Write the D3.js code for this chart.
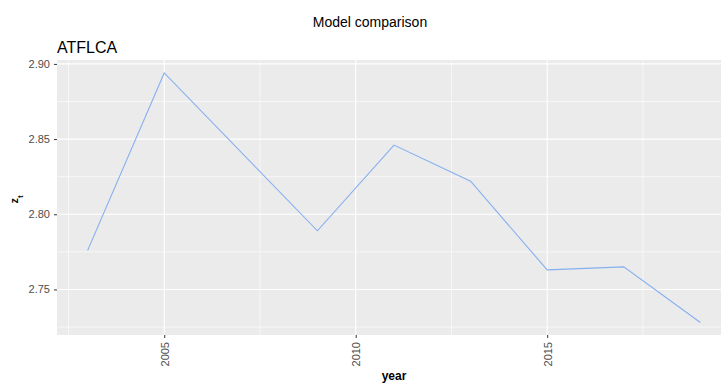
<!DOCTYPE html>
<html><head><meta charset="utf-8">
<script src="https://cdn.jsdelivr.net/npm/d3@7/dist/d3.min.js"></script>
<style>body{margin:0;background:#fff}svg{display:block}</style>
</head><body>
<svg id="c" width="721" height="383"></svg>
<script>
const years = [2003, 2005, 2009, 2011, 2013, 2015, 2017, 2019];
const zt = [2.776, 2.894, 2.789, 2.846, 2.822, 2.763, 2.765, 2.728];
const xTicks = [2005, 2010, 2015];
const xMinor = [2002.5, 2007.5, 2012.5, 2017.5];
const yTicks = [2.75, 2.80, 2.85, 2.90];
const yMinor = [2.725, 2.775, 2.825, 2.875];

const svg = d3.select("#c");
const L = 57, R = 731, T = 60, B = 335;
const x = d3.scaleLinear().domain([2002.2, 2019.8]).range([L, R]);
const y = d3.scaleLinear().domain([2.7197, 2.9026]).range([B, T]);
const font = "Liberation Sans, Arial, sans-serif";

svg.append("rect").attr("x", L).attr("y", T).attr("width", R - L).attr("height", B - T).attr("fill", "#ebebeb");

const g = svg.append("g");
g.selectAll(".ymin").data(yMinor).join("line")
  .attr("x1", L).attr("x2", R).attr("y1", d => y(d)).attr("y2", d => y(d))
  .attr("stroke", "#fff").attr("stroke-width", 0.6);
g.selectAll(".xmin").data(xMinor).join("line")
  .attr("y1", T).attr("y2", B).attr("x1", d => x(d)).attr("x2", d => x(d))
  .attr("stroke", "#fff").attr("stroke-width", 0.6);
g.selectAll(".ymaj").data(yTicks).join("line")
  .attr("x1", L).attr("x2", R).attr("y1", d => y(d)).attr("y2", d => y(d))
  .attr("stroke", "#fff").attr("stroke-width", 1.1);
g.selectAll(".xmaj").data(xTicks).join("line")
  .attr("y1", T).attr("y2", B).attr("x1", d => x(d)).attr("x2", d => x(d))
  .attr("stroke", "#fff").attr("stroke-width", 1.1);

const line = d3.line().x((d, i) => x(years[i])).y(d => y(d));
svg.append("path").datum(zt).attr("d", line).attr("fill", "none")
  .attr("stroke", "#86aff0").attr("stroke-width", 1.1);

// y axis
const ya = svg.append("g").attr("transform", `translate(${L},0)`)
  .call(d3.axisLeft(y).tickValues(yTicks).tickFormat(d3.format(".2f")).tickSize(3).tickPadding(4));
ya.select(".domain").remove();
ya.selectAll("line").attr("stroke", "#333");
ya.selectAll("text").attr("fill", "#4d4d4d").style("font-family", font).style("font-size", "11px");

// x axis
const xa = svg.append("g").attr("transform", `translate(0,${B})`)
  .call(d3.axisBottom(x).tickValues(xTicks).tickFormat(d3.format("d")).tickSize(3));
xa.select(".domain").remove();
xa.selectAll("line").attr("stroke", "#333");
xa.selectAll("text").attr("fill", "#4d4d4d").style("font-family", font).style("font-size", "11px")
  .attr("text-anchor", "end").attr("dy", "0.35em").attr("y", 0)
  .attr("transform", "translate(0,7) rotate(-90)").attr("x", 0);

// titles
svg.append("text").attr("x", 370).attr("y", 27).attr("text-anchor", "middle")
  .style("font-family", font).style("font-size", "14px").attr("fill", "#000").text("Model comparison");
svg.append("text").attr("x", L).attr("y", 53)
  .style("font-family", font).style("font-size", "16px").attr("fill", "#000").text("ATFLCA");
svg.append("text").attr("x", (L + R) / 2).attr("y", 380).attr("text-anchor", "middle")
  .style("font-family", font).style("font-size", "12px").style("font-weight", "bold").attr("fill", "#000").text("year");
const yl = svg.append("text").attr("transform", `translate(18,${(T + B) / 2 + 2}) rotate(-90)`).attr("text-anchor", "middle")
  .style("font-family", font).style("font-size", "11px").style("font-weight", "bold").attr("fill", "#000");
yl.append("tspan").text("z");
yl.append("tspan").attr("baseline-shift", "sub").style("font-size", "8px").text("t");
</script>
</body></html>
